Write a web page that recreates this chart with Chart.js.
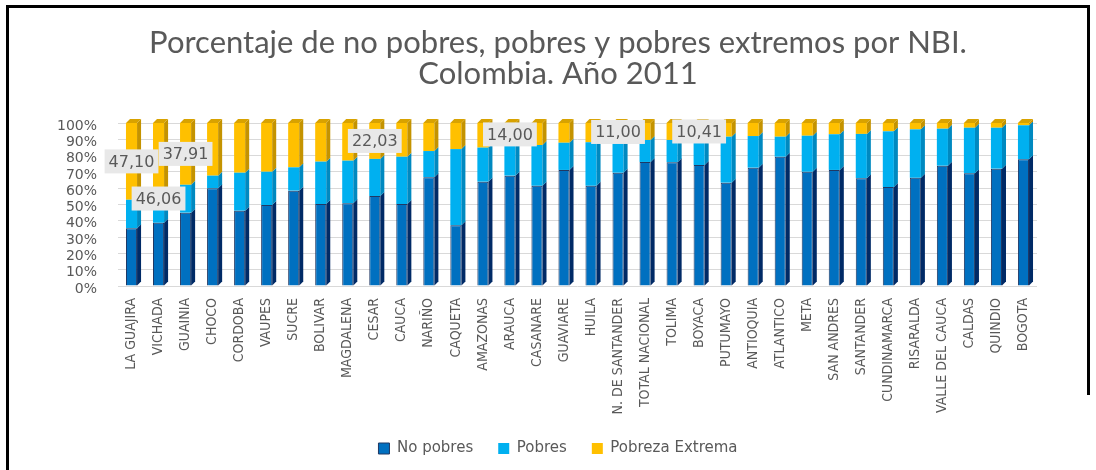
<!DOCTYPE html>
<html>
<head>
<meta charset="utf-8">
<script src="https://cdn.jsdelivr.net/npm/chart.js@4"></script>
<style>
  html, body { margin: 0; padding: 0; background: #fff; }
  #wrap { position: relative; width: 1096px; height: 470px; }
  #frame { position: absolute; left: 6px; top: 5px; width: 1081px; height: 470px; border-left: 3px solid #000; border-top: 3px solid #000; }
  #frameRight { position: absolute; left: 1087px; top: 5px; width: 3px; height: 390px; background: #000; }
</style>
</head>
<body>
<div id="wrap">
  <canvas id="nbiChart" width="1096" height="470"></canvas>
  <div id="frame"></div>
  <div id="frameRight"></div>
</div>
<script>
const departamentos = ['LA GUAJIRA', 'VICHADA', 'GUAINIA', 'CHOCO', 'CORDOBA', 'VAUPES', 'SUCRE', 'BOLIVAR',
	'MAGDALENA', 'CESAR', 'CAUCA', 'NARIÑO', 'CAQUETA', 'AMAZONAS', 'ARAUCA', 'CASANARE', 'GUAVIARE', 'HUILA',
	'N. DE SANTANDER', 'TOTAL NACIONAL', 'TOLIMA', 'BOYACA', 'PUTUMAYO', 'ANTIOQUIA', 'ATLANTICO', 'META',
	'SAN ANDRES', 'SANTANDER', 'CUNDINAMARCA', 'RISARALDA', 'VALLE DEL CAUCA', 'CALDAS', 'QUINDIO', 'BOGOTA'];

const noPobres = [35.4, 38.8, 45.0, 59.9, 46.2, 49.7, 58.5, 50.3, 50.7, 55.2, 50.3, 66.7, 37.2, 64.0, 67.7, 61.5, 71.2,
	61.5, 69.5, 76.1, 75.9, 74.2, 63.4, 72.6, 79.3, 70.1, 71.2, 66.1, 60.7, 66.4, 73.8, 69.1, 72.0, 77.7];
const pobres = [17.5, 15.14, 17.09, 7.8, 23.3, 20.4, 14.3, 26.0, 26.2, 22.77, 29.0, 16.1, 46.8, 20.9, 18.3, 25.0, 16.7,
	26.7, 19.5, 13.5, 13.7, 15.39, 28.2, 19.4, 12.3, 22.1, 21.9, 27.2, 34.2, 29.7, 22.7, 28.0, 25.1, 20.9];
const pobrezaExtrema = [47.10, 46.06, 37.91, 32.3, 30.5, 29.9, 27.2, 23.7, 23.1, 22.03, 20.7, 17.2, 16.0, 15.1, 14.00,
	13.5, 12.1, 11.8, 11.00, 10.4, 10.4, 10.41, 8.4, 8.0, 8.4, 7.8, 6.9, 6.7, 5.1, 3.9, 3.5, 2.9, 2.9, 1.4];

const yTicks = [0, 10, 20, 30, 40, 50, 60, 70, 80, 90, 100];
// bars whose extreme-poverty value is written on the chart
const labelledBars = [0, 1, 2, 9, 14, 18, 21];

const gris = '#595959';
const narrow = '"Liberation Sans Narrow", "DejaVu Sans Condensed", sans-serif';
const depth = 4;
const sideColors = ['#002A66', '#0089C0', '#C49300'];
const topColor = '#D8A200';

const bars3d = {
	id: 'bars3d',
	afterDatasetsDraw(chart) {
		const ctx = chart.ctx;
		const last = chart.data.datasets.length - 1;
		ctx.save();
		chart.data.datasets.forEach((ds, i) => {
			chart.getDatasetMeta(i).data.forEach(bar => {
				const { x, y, base, width } = bar.getProps(['x', 'y', 'base', 'width'], true);
				const l = x - width / 2;
				const r = x + width / 2;
				ctx.fillStyle = sideColors[i];
				ctx.beginPath();
				ctx.moveTo(r, y);
				ctx.lineTo(r + depth, y - depth);
				ctx.lineTo(r + depth, base - depth);
				ctx.lineTo(r, base);
				ctx.closePath();
				ctx.fill();
				if (i === last) {
					ctx.fillStyle = topColor;
					ctx.beginPath();
					ctx.moveTo(l, y);
					ctx.lineTo(l + depth, y - depth);
					ctx.lineTo(r + depth, y - depth);
					ctx.lineTo(r, y);
					ctx.closePath();
					ctx.fill();
				}
			});
		});

		// data labels on the extreme poverty segment
		const meta = chart.getDatasetMeta(last);
		ctx.font = '16px "DejaVu Sans", sans-serif';
		ctx.textAlign = 'center';
		ctx.textBaseline = 'middle';
		labelledBars.forEach(idx => {
			const bar = meta.data[idx];
			const { x, y, base } = bar.getProps(['x', 'y', 'base'], true);
			const text = chart.data.datasets[last].data[idx].toFixed(2).replace('.', ',');
			const cy = (y + base) / 2 + (idx === 1 ? 38 : 0);
			const w = ctx.measureText(text).width + 8;
			ctx.fillStyle = '#E8E8E8';
			ctx.fillRect(x - w / 2, cy - 12, w, 24);
			ctx.fillStyle = gris;
			ctx.fillText(text, x, cy + 1);
		});
		ctx.restore();
	}
};

const nbiConfig = {
	type: 'bar',
	data: {
		labels: departamentos,
		datasets: [
			{ label: 'No pobres', data: noPobres, backgroundColor: '#0070C0', borderColor: '#1F3864', borderWidth: 1 },
			{ label: 'Pobres', data: pobres, backgroundColor: '#00B0F0', borderWidth: 0 },
			{ label: 'Pobreza Extrema', data: pobrezaExtrema, backgroundColor: '#FFC000', borderWidth: 0 },
		],
	},
	options: {
		responsive: false,
		animation: false,
		datasets: { bar: { barPercentage: 0.41, categoryPercentage: 1 } },
		layout: { padding: { left: 20, right: 0, top: 0, bottom: 4 } },
		scales: {
			x: {
				stacked: true,
				afterFit: scale => { scale.height = 130; },
				grid: { display: false, drawTicks: false },
				border: { display: false },
				ticks: {
					autoSkip: false, maxRotation: 90, minRotation: 90, padding: 12,
					color: gris, font: { family: narrow, size: 14 },
				},
			},
			y: {
				stacked: true,
				min: 0,
				max: 100,
				afterFit: scale => { scale.width = 98; },
				afterBuildTicks: scale => { scale.ticks = yTicks.map(v => ({ value: v })); },
				grid: { color: '#D9D9D9', drawTicks: false },
				border: { display: false },
				ticks: {
					autoSkip: false, padding: 21, labelOffset: 3,
					color: gris, font: { family: '"DejaVu Sans", sans-serif', size: 14 },
					callback: v => v + '%',
				},
			},
			// empty strip on the right so title and legend stay centred on the page
			margenDerecho: {
				type: 'linear',
				position: 'right',
				afterFit: scale => { scale.width = 59; },
				grid: { display: false, drawTicks: false },
				border: { display: false },
				ticks: { display: false },
			},
		},
		plugins: {
			title: {
				display: true,
				text: ['Porcentaje de no pobres, pobres y pobres extremos por NBI.', 'Colombia. Año 2011'],
				color: gris,
				font: { family: 'Lato, sans-serif', size: 31, weight: 'normal', lineHeight: 1 },
				padding: { top: 27, bottom: 34 },
			},
			legend: {
				position: 'bottom',
				maxHeight: 50,
				labels: {
					boxWidth: 11, boxHeight: 11, padding: 25,
					color: gris, font: { family: '"DejaVu Sans", sans-serif', size: 15 },
				},
			},
			tooltip: { enabled: false },
		},
	},
	plugins: [bars3d],
};

(() => {
	new Chart(document.getElementById('nbiChart'), nbiConfig);
})();
</script>
</body>
</html>
